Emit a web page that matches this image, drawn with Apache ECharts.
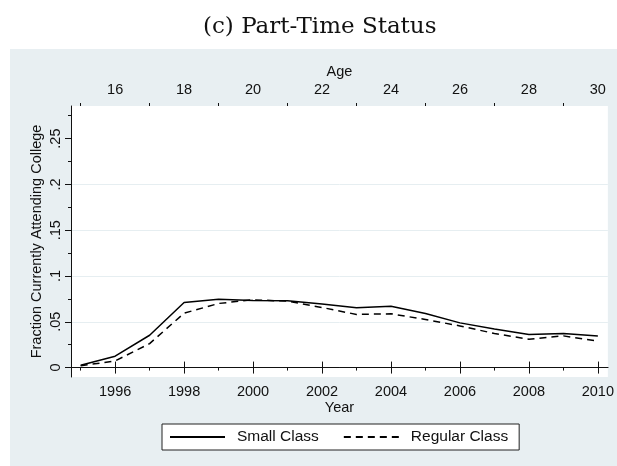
<!DOCTYPE html>
<html>
<head>
<meta charset="utf-8">
<script src="https://cdn.jsdelivr.net/npm/echarts@6/dist/echarts.min.js"></script>
<style>
  html, body { margin: 0; padding: 0; background: #fff; }
  #chart { width: 617px; height: 466px; }
</style>
</head>
<body>
<div id="chart"></div>
<script>
const years = [1995, 1996, 1997, 1998, 1999, 2000, 2001, 2002, 2003, 2004, 2005, 2006, 2007, 2008, 2009, 2010]
const smallClass = [0.0025, 0.0124, 0.0353, 0.0711, 0.0747, 0.0733, 0.0729, 0.0693, 0.0652, 0.0670, 0.0590, 0.0488, 0.0422, 0.0361, 0.0372, 0.0346]
const regularClass = [0.0020, 0.0072, 0.0262, 0.0594, 0.0700, 0.0740, 0.0725, 0.0656, 0.0580, 0.0587, 0.0525, 0.0455, 0.0372, 0.0310, 0.0346, 0.0288]

const yearTicks = [1996, 1998, 2000, 2002, 2004, 2006, 2008, 2010]
const yearMinorTicks = [1995, 1997, 1999, 2001, 2003, 2005, 2007, 2009]
const ageLabels = ['16', '18', '20', '22', '24', '26', '28', '30']
const yTicks = [0, 0.05, 0.1, 0.15, 0.2, 0.25]
const yLabels = ['0', '.05', '.1', '.15', '.2', '.25']
const yMinorTicks = [0.025, 0.075, 0.125, 0.175, 0.225, 0.275]
const yGrid = [0, 0.05, 0.1, 0.15, 0.2]

const X_MIN = 1994.72
const X_MAX = 2010.29
const Y_MIN = -0.0103
const Y_MAX = 0.2856

const FONT = 'Liberation Sans'
const INK = '#111'
const PANEL = '#e8eff2'

const chart = echarts.init(document.getElementById('chart'))

// stacked value axes sharing one range (main ticks, minor ticks, grid)
function xAxisOf(pos, extra) {
  return Object.assign({
    type: 'value', gridIndex: 0, position: pos, offset: 0,
    min: X_MIN, max: X_MAX,
    nameMoveOverlap: false,
    axisLine: { show: false },
    axisTick: { show: false },
    axisLabel: { show: false },
    splitLine: { show: false }
  }, extra)
}
function yAxisOf(extra) {
  return Object.assign({
    type: 'value', gridIndex: 0, position: 'left', offset: 0,
    min: Y_MIN, max: Y_MAX,
    nameMoveOverlap: false,
    axisLine: { show: false },
    axisTick: { show: false },
    axisLabel: { show: false },
    splitLine: { show: false }
  }, extra)
}

const option = {
  animation: false,
  title: {
    text: '(c) Part-Time Status',
    left: 198,
    top: 11,
    textStyle: { fontFamily: 'DejaVu Serif', fontWeight: 'normal', fontSize: 23, color: '#111' }
  },
  graphic: [
    { type: 'rect', z: -10, shape: { x: 10, y: 49, width: 607, height: 417 }, style: { fill: PANEL } }
  ],
  grid: { left: 71, top: 106, width: 539, height: 271, show: true, backgroundColor: '#fff', borderWidth: 0 },
  legend: {
    left: 162,
    top: 424,
    padding: [5, 11, 5, 7],
    itemWidth: 55,
    itemHeight: 16,
    itemGap: 24,
    backgroundColor: '#fff',
    borderColor: '#222',
    borderWidth: 1,
    itemStyle: { opacity: 0 },
    textStyle: { fontFamily: FONT, fontSize: 15.5, color: INK, padding: [0, 0, 0, 7] },
    data: ['Small Class', 'Regular Class']
  },
  xAxis: [
    xAxisOf('bottom', {
      axisLine: { show: true, lineStyle: { color: INK, width: 1 } },
      axisTick: { show: true, customValues: yearTicks, length: 6, lineStyle: { color: INK } },
      axisLabel: {
        show: true, customValues: yearTicks, margin: 7, fontFamily: FONT, fontSize: 14.5, color: INK,
        formatter: v => String(v)
      },
      name: 'Year', nameLocation: 'middle', nameGap: 23,
      nameTextStyle: { fontFamily: FONT, fontSize: 14.5, color: INK }
    }),
    xAxisOf('bottom', {
      axisTick: { show: true, customValues: yearMinorTicks, length: 3, lineStyle: { color: INK } }
    }),
    xAxisOf('top', {
      axisLine: { show: true, lineStyle: { color: INK, width: 1 } },
      axisTick: { show: true, customValues: yearTicks, length: 6, lineStyle: { color: INK } },
      axisLabel: {
        show: true, customValues: yearTicks, margin: 9, fontFamily: FONT, fontSize: 14.5, color: INK,
        formatter: v => ageLabels[yearTicks.indexOf(v)]
      },
      name: 'Age', nameLocation: 'middle', nameGap: 27,
      nameTextStyle: { fontFamily: FONT, fontSize: 14.5, color: INK }
    }),
    xAxisOf('top', {
      axisTick: { show: true, customValues: yearMinorTicks, length: 3, lineStyle: { color: INK } }
    })
  ],
  yAxis: [
    yAxisOf({
      axisLine: { show: true, lineStyle: { color: INK, width: 1 } },
      axisTick: { show: true, customValues: yTicks, length: 6, lineStyle: { color: INK } },
      axisLabel: {
        show: true, customValues: yTicks, rotate: 90, margin: 8, fontFamily: FONT, fontSize: 14.5, color: INK,
        formatter: v => yLabels[yTicks.indexOf(v)]
      },
      name: 'Fraction Currently Attending College', nameLocation: 'middle', nameGap: 27,
      nameTextStyle: { fontFamily: FONT, fontSize: 14.5, color: INK }
    }),
    yAxisOf({
      axisTick: { show: true, customValues: yMinorTicks, length: 3, lineStyle: { color: INK } }
    }),
    yAxisOf({
      axisTick: { show: false, customValues: yGrid },
      splitLine: { show: true, lineStyle: { color: '#e6eef1', width: 1 } }
    })
  ],
  series: [
    {
      name: 'Small Class',
      type: 'line',
      xAxisIndex: 0,
      yAxisIndex: 0,
      data: years.map((y, i) => [y, smallClass[i]]),
      symbol: 'none',
      lineStyle: { color: '#000', width: 1.5, type: 'solid' },
      itemStyle: { color: '#000' }
    },
    {
      name: 'Regular Class',
      type: 'line',
      xAxisIndex: 0,
      yAxisIndex: 0,
      data: years.map((y, i) => [y, regularClass[i]]),
      symbol: 'none',
      lineStyle: { color: '#000', width: 1.5, type: [7, 5] },
      itemStyle: { color: '#000' }
    }
  ]
}

chart.setOption(option)
</script>
</body>
</html>
